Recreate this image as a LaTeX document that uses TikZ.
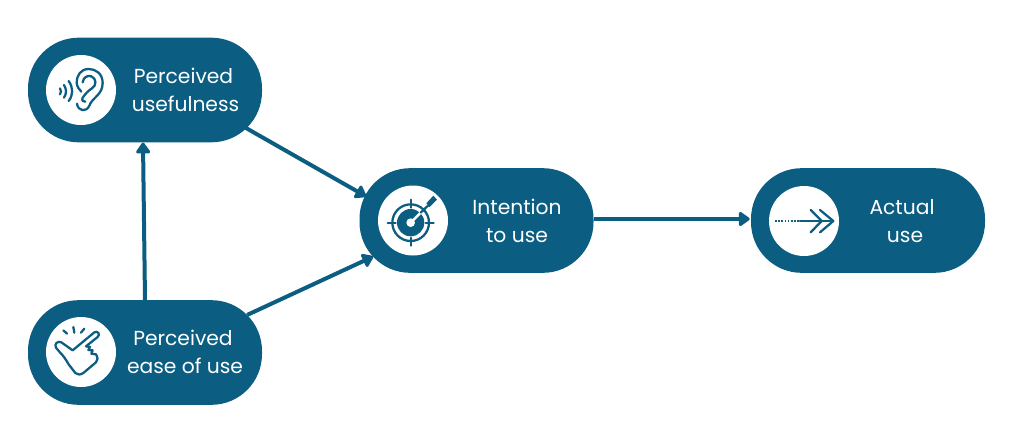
\documentclass[tikz,border=0pt]{standalone}
\usepackage{fontspec}
\setmainfont{Poppins}
\usetikzlibrary{arrows.meta}
\definecolor{pillblue}{HTML}{0B5E82}
\tikzset{
	pill/.style={fill=pillblue,minimum width=175.5pt,minimum height=78.5pt,rounded corners=38pt,inner sep=0pt},
	iconbg/.style={circle,fill=white,minimum size=52.5pt,inner sep=0pt},
	pilltext/.style={text=white,align=center,font=\fontsize{15.2pt}{21pt}\selectfont},
	flow/.style={draw=pillblue,line width=3pt,-{Triangle[round,length=9pt,width=12pt]}},
	iconline/.style={draw=pillblue,line width=1.7pt,line cap=round,line join=round},
	zoomed/.style={x=.25pt,y=-.25pt},
}
\begin{document}
\begin{tikzpicture}[x=.75pt,y=-.75pt]
	\useasboundingbox (0,0) rectangle (1010,429);
	% pills
	\node[pill] (useful) at (145,90) {};
	\node[pill] (ease) at (145,352.5) {};
	\node[pill] (intent) at (476.5,220.5) {};
	\node[pill] (actual) at (868,220.5) {};
	% connectors
	\draw[flow] ([shift={(-17,-15)}]useful.south east) -- ([shift={(7,-24)}]intent.west);
	\draw[flow] ([shift={(-15,15)}]ease.north east) -- ([shift={(14,36)}]intent.west);
	\draw[flow] (ease.north) -- ([shift={(-2,0)}]useful.south);
	\draw[flow] ([shift={(0,-1.5)}]intent.east) -- ([shift={(-1,-1.5)}]actual.west);
	% white discs
	\node[iconbg] (usefulicon) at (81,90) {};
	\node[iconbg] (easeicon) at (81,352) {};
	\node[iconbg] (intenticon) at (413,220.5) {};
	\node[iconbg] (actualicon) at (804,221) {};
	% labels
	\node[pilltext] (usefultext) at (185.5,89.5) {Perceived\hspace*{3pt}\\usefulness};
	\node[pilltext] (easetext) at (185,351.5) {Perceived\hspace*{3pt}\\ease of use};
	\node[pilltext] (intenttext) at (517,221) {Intention\\to use};
	\node[pilltext] (actualtext) at (902,221) {Actual\\\hspace*{4.5pt}use};
	% ear
	\begin{scope}[shift={(46,55)},zoomed]
		\draw[iconline] (93,146) .. controls (96,170) and (122,172) .. (130,152)
			.. controls (138,128) and (170,120) .. (170,84)
			.. controls (170,55) and (148,42) .. (128,42)
			.. controls (104,42) and (92,62) .. (92,82)
			.. controls (92,96) and (100,102) .. (106,110);
		\draw[iconline] (110,82) .. controls (112,66) and (126,60) .. (136,64)
			.. controls (152,70) and (152,92) .. (138,100)
			.. controls (126,108) and (120,114) .. (110,128) .. controls (106,136) and (112,142) .. (118,140);
		\draw[iconline] (42,100) .. controls (46,106) and (46,112) .. (42,118);
		\draw[iconline] (54,90) .. controls (62,102) and (62,116) .. (54,128);
		\draw[iconline] (68,78) .. controls (82,98) and (82,120) .. (68,138);
	\end{scope}
	% hand
	\begin{scope}[shift={(46,317)},zoomed]
		\draw[iconline] (80,100) -- (145,46) .. controls (155,40) and (164,52) .. (155,60)
			-- (120,88) -- (132,90) -- (127,99) -- (140,100) -- (136,110) -- (150,112)
			.. controls (156,122) and (156,130) .. (150,136)
			-- (112,168) .. controls (104,174) and (94,174) .. (88,168)
			-- (68,142) .. controls (60,128) and (52,116) .. (40,104) -- (30,92)
			.. controls (24,82) and (34,70) .. (46,76) -- cycle;
		\draw[iconline] (52,40) -- (63,50);
		\draw[iconline] (82,30) -- (85,47);
		\draw[iconline] (115,35) -- (105,47);
	\end{scope}
	% target
	\begin{scope}[shift={(378,185)},zoomed]
		\draw[iconline] (98,113) circle (55);
		\fill[pillblue] (98,113) circle (41);
		\fill[white] (98,113) circle (13);
		\draw[iconline] (98,44) -- (98,68) (98,158) -- (98,182) (29,113) -- (53,113) (143,113) -- (167,113);
		\draw[white,line width=1.8pt] (98,113) -- (128,83);
		\draw[iconline] (128,83) -- (150,62);
		\fill[pillblue] (145,55) -- (166,32) -- (177,44) -- (155,66) -- cycle;
	\end{scope}
	% double arrow
	\begin{scope}[shift={(740,160)},zoomed]
		\draw[pillblue,line width=1.4pt,dash pattern=on 1.2pt off 1.2pt] (105,183) -- (180,183);
		\draw[iconline] (180,183) -- (272,183);
		\draw[iconline] (212,150) -- (245,183) -- (212,217);
		\draw[iconline] (240,150) -- (280,183) -- (240,217);
	\end{scope}
\end{tikzpicture}
\end{document}
